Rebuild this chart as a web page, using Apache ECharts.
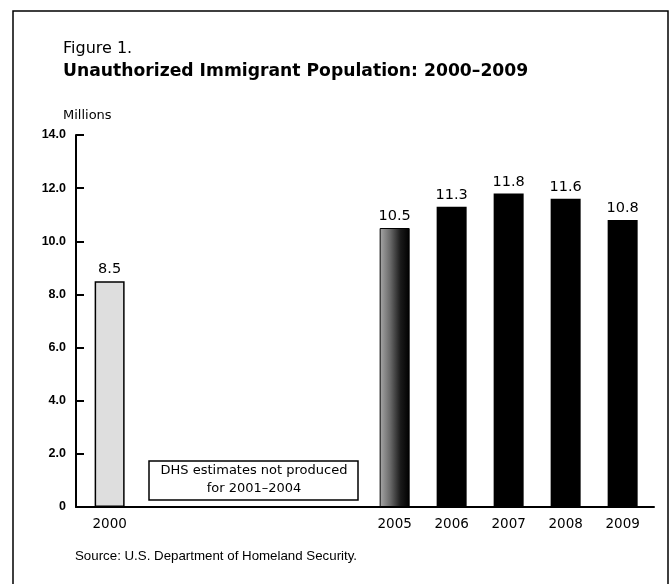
<!DOCTYPE html>
<html>
<head>
<meta charset="utf-8">
<script src="https://cdn.jsdelivr.net/npm/echarts@6/dist/echarts.min.js"></script>
<style>html,body{margin:0;padding:0;background:#fff}#c{width:672px;height:584px}</style>
</head>
<body>
<div id="c"></div>
<script>
const years = [2000, 2005, 2006, 2007, 2008, 2009];
const values = [8.5, 10.5, 11.3, 11.8, 11.6, 10.8];
const yTicks = [0, 2, 4, 6, 8, 10, 12, 14];
const titleText = 'Unauthorized Immigrant Population: 2000–2009';
const noteLines = ['DHS estimates not produced', 'for 2001–2004'];

const font = '"DejaVu Sans", "Liberation Sans", sans-serif';
const fontL = '"Liberation Sans", Arial, sans-serif';
const barStyles = [
  { color: '#dedede', borderColor: '#000', borderWidth: 1.5 },
  { color: { type: 'linear', x: 0, y: 0, x2: 1, y2: 0, colorStops: [
      { offset: 0, color: '#a8a8a8' }, { offset: 0.35, color: '#6a6a6a' }, { offset: 0.7, color: '#1a1a1a' }, { offset: 1, color: '#000' }] },
    borderColor: '#000', borderWidth: 1 },
  { color: '#000' }, { color: '#000' }, { color: '#000' }, { color: '#000' }
];

const chart = echarts.init(document.getElementById('c'), null, { renderer: 'canvas' });
chart.setOption({
  backgroundColor: '#fff',
  animation: false,
  textStyle: { fontFamily: font },
  title: [
    { text: 'Figure 1.', left: 58, top: 36, textStyle: { fontFamily: font, fontSize: 16, fontWeight: 'normal', color: '#000' } },
    { text: titleText, left: 58, top: 58, textStyle: { fontFamily: font, fontSize: 17.2, fontWeight: 'bold', color: '#000' } },
    { text: 'Millions', left: 58, top: 104, textStyle: { fontFamily: font, fontSize: 13, fontWeight: 'normal', color: '#000' } },
    { text: 'Source: U.S. Department of Homeland Security.', left: 70, top: 545, textStyle: { fontFamily: fontL, fontSize: 13.3, fontWeight: 'normal', color: '#000' } }
  ],
  grid: { left: 76, right: 18, top: 135, bottom: 77 },
  xAxis: {
    type: 'value',
    min: 1999.41,
    max: 2009.55,
    splitLine: { show: false },
    axisLine: { show: true, onZero: false, lineStyle: { color: '#000', width: 2 } },
    axisTick: { show: false },
    axisLabel: { customValues: years, margin: 10, color: '#000', fontSize: 13.5, fontFamily: font, formatter: v => String(Math.round(v)) }
  },
  yAxis: {
    type: 'value',
    min: 0, max: 14, interval: 2,
    splitLine: { show: false },
    axisLine: { show: true, lineStyle: { color: '#000', width: 2 } },
    axisTick: { show: true, inside: true, length: 8, lineStyle: { color: '#000', width: 2 } },
    axisLabel: { margin: 10, color: '#000', fontSize: 12.5, fontWeight: 'bold', fontFamily: fontL,
      formatter: v => v === 0 ? '0' : v.toFixed(1) }
  },
  series: [{
    type: 'bar',
    barWidth: 30,
    data: years.map((y, i) => ({ value: [y, values[i]], itemStyle: barStyles[i] })),
    label: { show: true, position: 'top', distance: 4, color: '#000', fontSize: 14.5, fontFamily: font,
      formatter: p => p.value[1].toFixed(1) }
  }],
  graphic: [
    { type: 'rect', shape: { x: 13, y: 11, width: 655, height: 600 }, style: { fill: 'none', stroke: '#000', lineWidth: 1.5 }, silent: true },
    { type: 'rect', shape: { x: 149, y: 461, width: 209, height: 39 }, style: { fill: '#fff', stroke: '#000', lineWidth: 1.5 }, silent: true },
    { type: 'text', x: 254, y: 471, style: { text: noteLines[0], fontSize: 13, fontFamily: font, fill: '#000', align: 'center', verticalAlign: 'middle' } },
    { type: 'text', x: 254, y: 489, style: { text: noteLines[1], fontSize: 13, fontFamily: font, fill: '#000', align: 'center', verticalAlign: 'middle' } }
  ]
});
</script>
</body>
</html>
